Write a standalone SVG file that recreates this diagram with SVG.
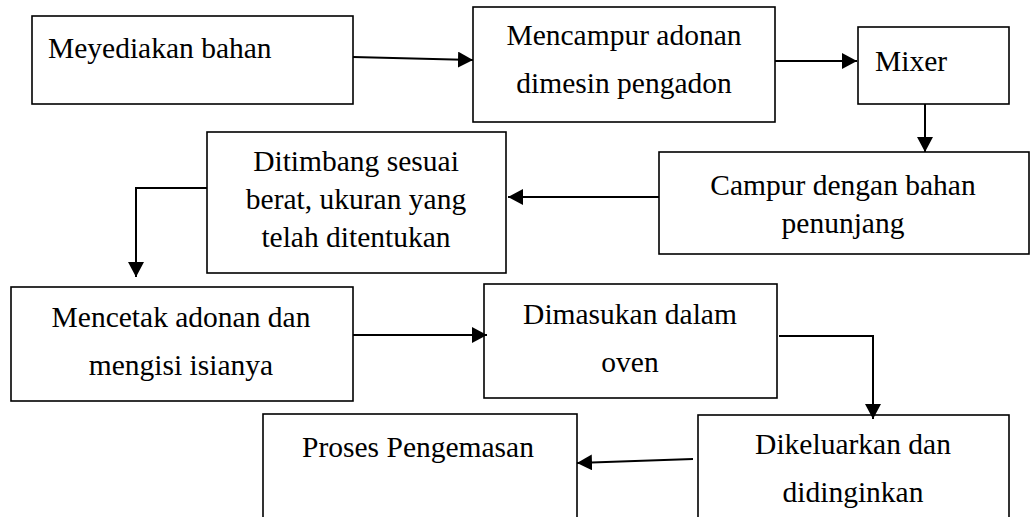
<svg xmlns="http://www.w3.org/2000/svg" width="1035" height="517" viewBox="0 0 1035 517">
<style>
.box{fill:#fff;stroke:#000;stroke-width:1.6}
.t{font-family:"Liberation Serif","Times New Roman",serif;font-size:29.5px;fill:#000}
.m{text-anchor:middle}
.c{fill:none;stroke:#000;stroke-width:2}
</style>
<defs>
<marker id="ah" markerUnits="userSpaceOnUse" markerWidth="16" markerHeight="16" refX="15" refY="8" orient="auto">
<path d="M0,0 L15,8 L0,16 z" fill="#000"/>
</marker>
</defs>
<rect width="1035" height="517" fill="#fff"/>
<g id="n1"><rect class="box" x="32" y="16" width="321" height="88"/><text class="t" x="48" y="58">Meyediakan bahan</text></g>
<g id="n2"><rect class="box" x="473" y="7" width="302" height="115"/><text class="t m" x="624" y="45">Mencampur adonan</text><text class="t m" x="624" y="93">dimesin pengadon</text></g>
<g id="n3"><rect class="box" x="858" y="27" width="151" height="77"/><text class="t" x="875" y="71">Mixer</text></g>
<g id="n4"><rect class="box" x="659" y="152" width="370" height="102"/><text class="t m" x="843" y="195">Campur dengan bahan</text><text class="t m" x="843" y="233">penunjang</text></g>
<g id="n5"><rect class="box" x="207" y="132" width="299" height="141"/><text class="t m" x="356" y="171">Ditimbang sesuai</text><text class="t m" x="356" y="209">berat, ukuran yang</text><text class="t m" x="356" y="247">telah ditentukan</text></g>
<g id="n6"><rect class="box" x="11" y="287" width="342" height="114"/><text class="t m" x="181" y="327">Mencetak adonan dan</text><text class="t m" x="181" y="375">mengisi isianya</text></g>
<g id="n7"><rect class="box" x="484" y="284" width="293" height="114"/><text class="t m" x="630" y="324">Dimasukan dalam</text><text class="t m" x="630" y="372">oven</text></g>
<g id="n8"><rect class="box" x="698" y="415" width="311" height="110"/><text class="t m" x="853" y="454">Dikeluarkan dan</text><text class="t m" x="853" y="502">didinginkan</text></g>
<g id="n9"><rect class="box" x="263" y="414" width="314" height="110"/><text class="t m" x="418" y="457">Proses Pengemasan</text></g>
<g id="connectors">
<path class="c" d="M353,57 L473,60" marker-end="url(#ah)"/>
<path class="c" d="M775,61 L857,61" marker-end="url(#ah)"/>
<path class="c" d="M925,104 L925,152" marker-end="url(#ah)"/>
<path class="c" d="M659,197 L508,197" marker-end="url(#ah)"/>
<path class="c" d="M207,188 L136,188 L136,277" marker-end="url(#ah)"/>
<path class="c" d="M353,335 L487,335" marker-end="url(#ah)"/>
<path class="c" d="M779,336 L873,336 L873,419" marker-end="url(#ah)"/>
<path class="c" d="M693,459 L577,463" marker-end="url(#ah)"/>
</g>
</svg>
